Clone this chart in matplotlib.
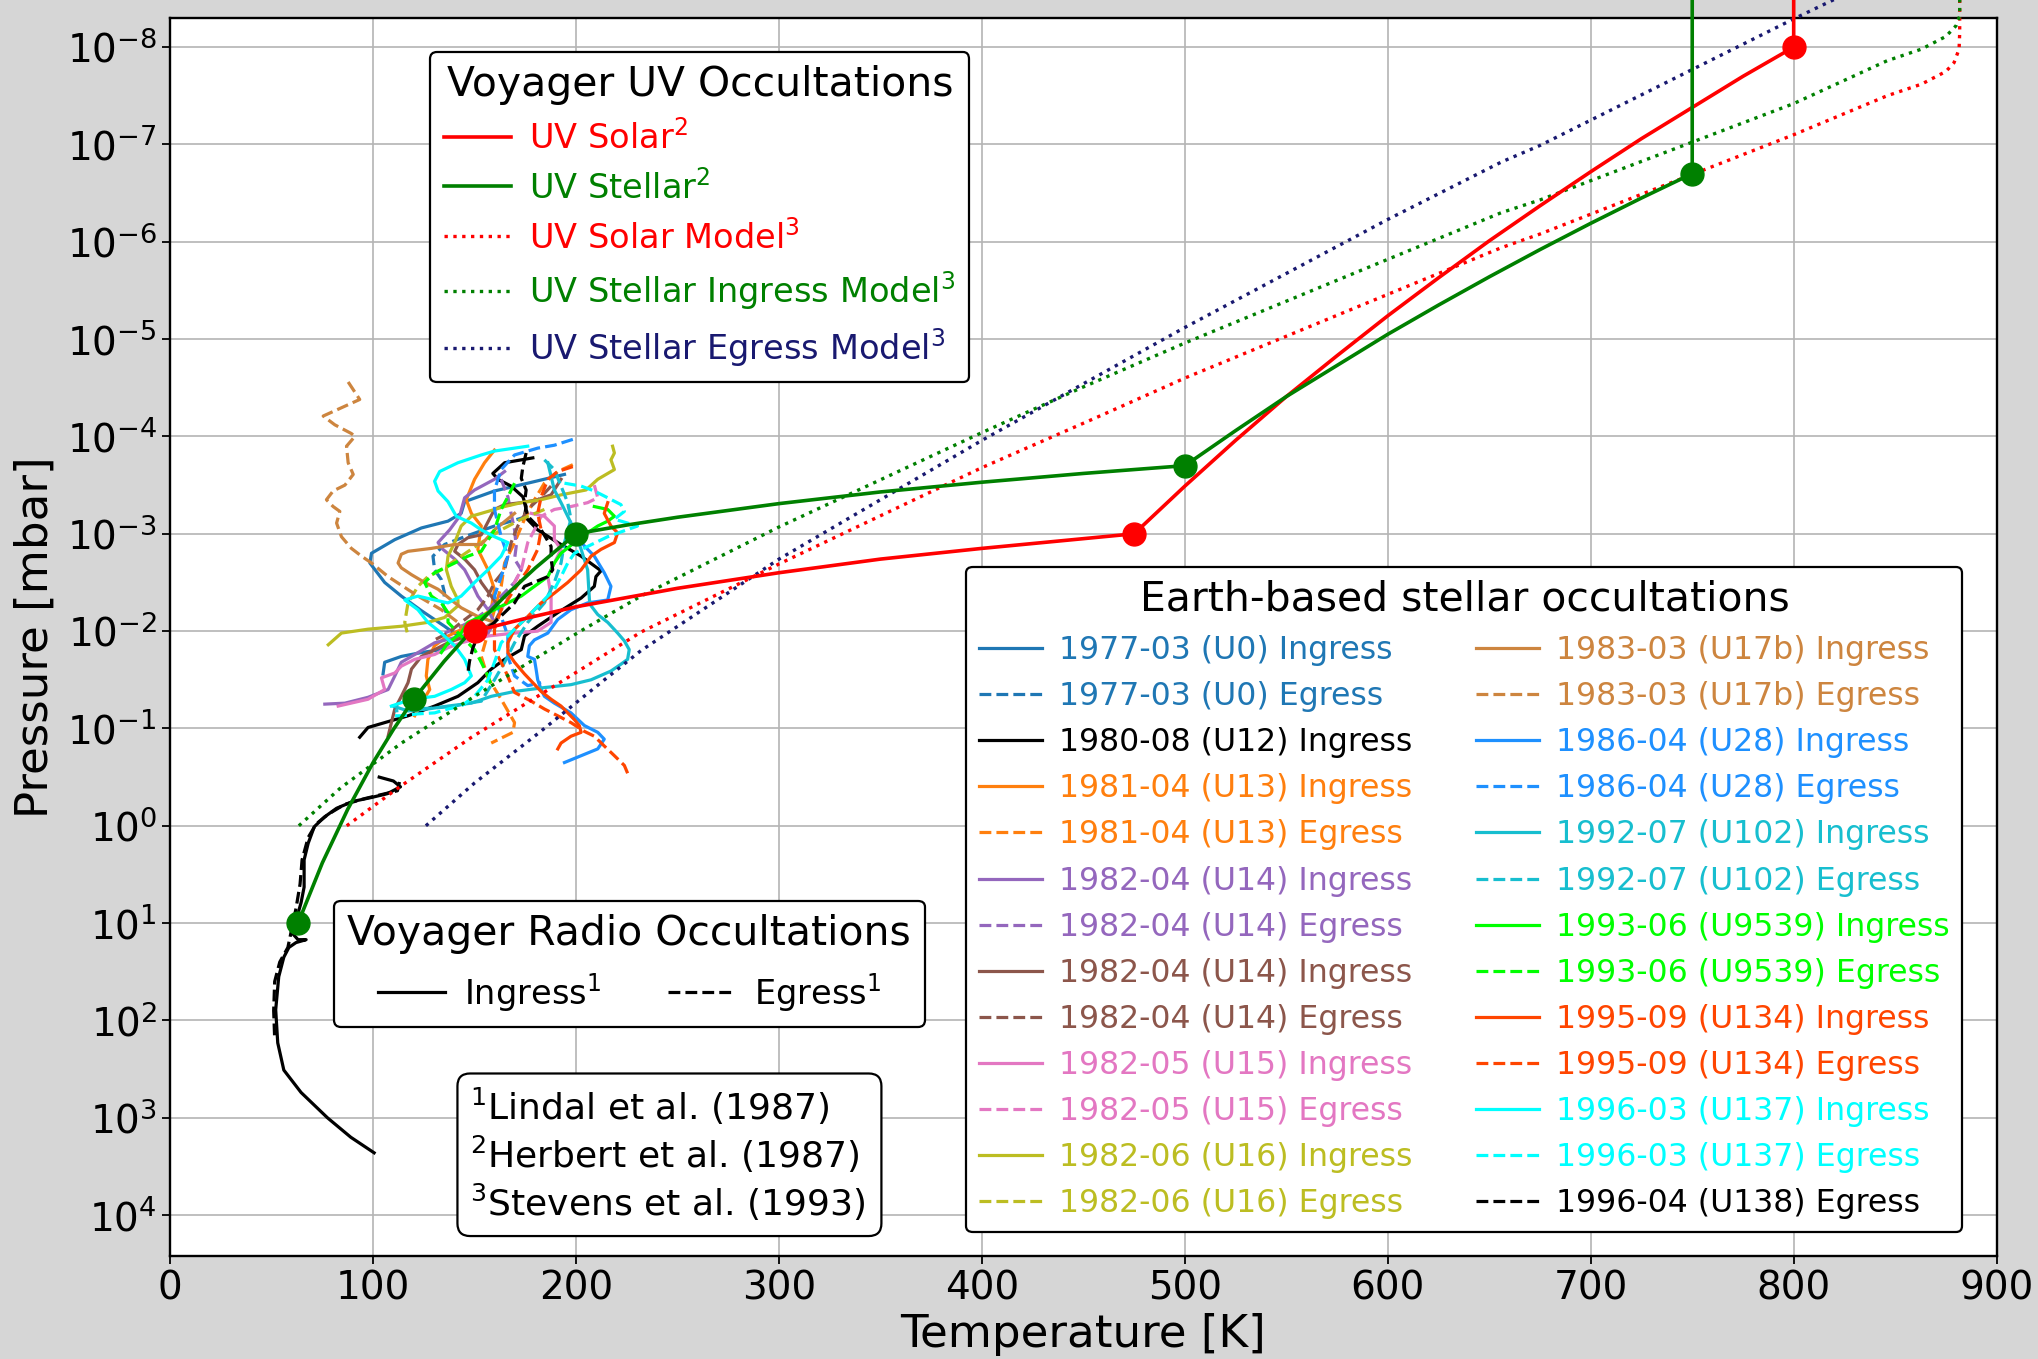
import numpy as np
import matplotlib
matplotlib.use("Agg")
import matplotlib.pyplot as plt
from matplotlib.ticker import FixedLocator, NullLocator

# ---------------------------------------------------------------------------
# Voyager UV occultations (Herbert et al. 1987); pressures stored as log10(mbar)
# ---------------------------------------------------------------------------
uv_solar_T = [150, 175, 200, 250, 300, 350, 400, 450, 475, 500, 525, 550, 575,
              600, 625, 650, 675, 700, 725, 750, 775, 800, 800]
uv_solar_logp = [-2.0, -2.13, -2.25, -2.44, -2.60, -2.74, -2.85, -2.95, -3.0,
                 -3.49, -3.96, -4.41, -4.83, -5.24, -5.63, -6.01, -6.37, -6.72,
                 -7.06, -7.38, -7.70, -8.0, -9.5]
uv_solar_pts_T = [150, 475, 800]
uv_solar_pts_logp = [-2.0, -3.0, -8.0]

uv_stellar_T = [63, 75, 87.5, 100, 110, 120, 135, 150, 165, 180, 200, 225, 250,
                275, 300, 350, 400, 450, 500, 525, 550, 575, 600, 625, 650, 675,
                700, 725, 750, 750]
uv_stellar_logp = [1.0, 0.38, -0.17, -0.65, -0.99, -1.30, -1.69, -2.04, -2.36,
                   -2.65, -3.0, -3.09, -3.17, -3.24, -3.31, -3.43, -3.53, -3.62,
                   -3.70, -4.06, -4.41, -4.73, -5.05, -5.35, -5.64, -5.92, -6.19,
                   -6.45, -6.70, -9.5]
uv_stellar_pts_T = [63, 120, 200, 500, 750]
uv_stellar_pts_logp = [1.0, -1.30, -3.0, -3.70, -6.70]

# Model profiles (Stevens et al. 1993)
solar_model_T = [87, 112.4, 148.5, 188, 232, 300, 400, 457, 500, 600, 656, 675,
                 800, 846, 863, 875, 879, 881.5, 881.8, 881.8]
solar_model_logp = [0.0, -0.39, -0.91, -1.42, -1.99, -2.69, -3.68, -4.20, -4.60,
                    -5.46, -5.94, -6.08, -7.10, -7.50, -7.62, -7.75, -7.84,
                    -7.98, -8.15, -9.5]
ingress_model_T = [63.4, 84, 114, 148.5, 173, 203, 232, 300, 400, 449, 500, 600,
                   656, 675, 800, 846, 863, 875, 880, 881.8, 881.8]
ingress_model_logp = [0.0, -0.39, -0.85, -1.31, -1.63, -2.01, -2.36, -3.07,
                      -4.04, -4.50, -4.96, -5.82, -6.30, -6.43, -7.42, -7.86,
                      -7.98, -8.11, -8.22, -8.32, -9.5]
egress_model_T = [126, 150, 182, 214, 232, 300, 400, 449, 500, 600, 656, 675,
                  800, 820, 845]
egress_model_logp = [0.0, -0.44, -0.96, -1.50, -1.80, -2.74, -3.96, -4.53,
                     -5.12, -6.23, -6.82, -6.99, -8.29, -8.49, -8.80]

# ---------------------------------------------------------------------------
# Voyager radio occultations (Lindal et al. 1987)
# ---------------------------------------------------------------------------
radio_in_T = [103, 110, 113.5, 107, 99, 90, 82, 76, 71, 68, 66, 66, 64.5, 63,
              62, 60, 63, 67, 62, 58.5, 56, 53.5, 52, 53, 56, 64.5, 77.5, 89,
              100.5]
radio_in_logp = [-0.50, -0.46, -0.40, -0.33, -0.29, -0.25, -0.18, -0.09, 0.01,
                 0.18, 0.35, 0.63, 0.79, 0.90, 1.0, 1.1, 1.17, 1.17, 1.2, 1.25,
                 1.35, 1.55, 1.89, 2.23, 2.51, 2.74, 3.0, 3.2, 3.36]
radio_eg_T = [113, 112, 104, 96, 86, 78, 72, 68, 65, 64, 62, 60, 58, 54, 51.5,
              51, 51.5]
radio_eg_logp = [-0.45, -0.36, -0.32, -0.28, -0.22, -0.12, -0.02, 0.12, 0.35,
                 0.6, 0.85, 1.05, 1.25, 1.4, 1.6, 1.9, 2.19]

# ---------------------------------------------------------------------------
# Earth-based stellar occultation profiles
# ---------------------------------------------------------------------------
u0_in_T = [194.3, 176.2, 159.8, 145.1, 143.4, 136.9, 123.8, 110.7, 99.2, 98.4,
           105.7, 113.9, 123.8, 135.2, 141.8, 133.6, 123.8, 113.9, 105.7, 104.9]
u0_in_logp = [-3.61, -3.52, -3.44, -3.33, -3.21, -3.13, -3.06, -2.94, -2.80,
              -2.70, -2.50, -2.36, -2.21, -2.05, -1.95, -1.81, -1.78, -1.74,
              -1.68, -1.56]
u0_eg_T = [176.2, 159.8, 145.1, 135.2, 129.5, 130.3, 133.6, 135.2, 134.4, 136.9]
u0_eg_logp = [-3.18, -3.08, -2.97, -2.89, -2.77, -2.63, -2.53, -2.39, -2.27,
              -2.15]
u12_in_T = [178.7, 164.8, 159.0, 161.5, 168.0, 173.8, 175.4, 174.6, 181.1, 191.0,
            202.5, 212.3, 209.8, 209.0, 202.5, 191.0, 181.1, 174.6, 173.0, 164.8,
            158.2, 151.6, 141.8, 130.3, 117.2, 105.7, 97.5, 93.4]
u12_in_logp = [-3.78, -3.73, -3.62, -3.56, -3.49, -3.38, -3.28, -3.18, -3.04,
               -2.91, -2.77, -2.62, -2.56, -2.46, -2.34, -2.19, -2.05, -1.95,
               -1.81, -1.71, -1.61, -1.47, -1.33, -1.23, -1.13, -1.06, -1.01,
               -0.91]
u13_in_T = [159.8, 154.9, 150.0, 145.9, 148.4, 153.3, 151.6, 156.6, 159.8, 158.2,
            146.7, 136.9, 130.3, 127.0, 126.2, 127.9, 123.8, 120.5]
u13_in_logp = [-3.86, -3.73, -3.56, -3.35, -3.21, -3.08, -2.84, -2.63, -2.43,
               -2.22, -2.05, -1.95, -1.85, -1.71, -1.54, -1.40, -1.26, -1.13]
u13_eg_T = [198.4, 191.0, 184.4, 179.5, 174.6, 169.7, 164.8, 163.1, 159.8, 156.6,
            153.3, 156.6, 163.1, 169.7, 168.9, 158.2]
u13_eg_logp = [-3.71, -3.64, -3.52, -3.35, -3.15, -2.91, -2.70, -2.46, -2.22,
               -1.98, -1.74, -1.52, -1.30, -1.06, -0.96, -0.85]
u14a_in_T = [164.8, 159.8, 150.0, 145.1, 142.6, 137.7, 132.0, 134.4, 140.2, 145.1,
             148.4, 151.6, 156.6, 159.8, 156.6, 143.4, 130.3, 118.9, 113.9, 110.7,
             107.4, 97.5, 86.1, 76.2]
u14a_in_logp = [-3.64, -3.56, -3.45, -3.37, -3.18, -3.04, -2.91, -2.84, -2.74,
                -2.63, -2.50, -2.36, -2.22, -2.09, -1.98, -1.95, -1.88, -1.74,
                -1.68, -1.54, -1.40, -1.32, -1.26, -1.25]
u14a_eg_T = [163.1, 166.4, 168.0, 169.7, 170.5, 169.7, 173.0, 169.7, 163.1, 156.6,
             150.0, 143.4, 135.2]
u14a_eg_logp = [-3.56, -3.38, -3.21, -3.04, -2.87, -2.74, -2.63, -2.50, -2.36,
                -2.22, -2.12, -2.05, -1.98]
u14b_in_T = [192.6, 187.7, 181.1, 173.0, 164.8, 159.8, 153.3, 146.7, 141.8, 140.2,
             145.1, 150.0, 153.3, 158.2, 163.1, 159.8, 150.0, 136.9, 123.8, 118.9,
             117.2, 113.9, 110.7, 109.0, 107.4]
u14b_in_logp = [-3.56, -3.40, -3.35, -3.32, -3.30, -3.25, -2.99, -2.96, -2.89,
                -2.82, -2.74, -2.63, -2.50, -2.36, -2.22, -2.09, -1.98, -1.88,
                -1.74, -1.61, -1.47, -1.33, -1.20, -1.06, -0.92]
u14b_eg_T = [187.7, 182.8, 176.2, 171.3, 168.0, 166.4, 164.8, 159.8, 156.6, 151.6,
             143.4, 136.9, 130.3]
u14b_eg_logp = [-3.49, -3.38, -3.25, -3.08, -2.91, -2.77, -2.63, -2.50, -2.36,
                -2.22, -2.09, -1.98, -1.91]
u15_in_T = [177.9, 184.4, 189.3, 189.3, 192.6, 189.3, 186.1, 187.7, 187.7, 181.1,
            169.7, 156.6, 143.4, 136.9, 130.3, 120.5, 113.9, 110.7, 104.1, 105.7,
            97.5, 82.8]
u15_in_logp = [-3.21, -3.18, -3.08, -2.94, -2.84, -2.70, -2.56, -2.36, -2.09,
               -2.00, -1.98, -1.95, -1.88, -1.83, -1.76, -1.71, -1.64, -1.57,
               -1.52, -1.40, -1.30, -1.23]
u15_eg_T = [209.0, 210.7, 205.7, 197.5, 189.3, 182.8, 179.5, 176.2, 174.6, 173.0,
            169.7, 166.4, 163.1]
u15_eg_logp = [-3.50, -3.37, -3.32, -3.28, -3.25, -3.18, -3.04, -2.91, -2.77,
               -2.63, -2.50, -2.36, -2.22]
u16_in_T = [218.0, 218.9, 217.2, 218.9, 210.7, 204.9, 192.6, 182.8, 173.0, 164.8,
            156.6, 148.4, 143.4, 140.2, 136.9, 136.1, 138.5, 141.8, 141.8, 135.2,
            127.0, 113.9, 97.5, 84.4, 77.9]
u16_in_logp = [-3.90, -3.83, -3.76, -3.66, -3.56, -3.45, -3.40, -3.35, -3.32,
               -3.28, -3.23, -3.18, -3.08, -2.91, -2.77, -2.63, -2.46, -2.32,
               -2.26, -2.14, -2.09, -2.05, -2.02, -1.98, -1.86]
u16_eg_T = [184.4, 173.0, 163.1, 153.3, 143.4, 133.6, 127.0, 122.1, 117.2, 115.6,
            117.2]
u16_eg_logp = [-3.25, -3.15, -3.04, -2.91, -2.77, -2.63, -2.56, -2.46, -2.29,
               -2.09, -1.95]
u17b_in_T = [169.7, 159.8, 153.3, 140.2, 128.7, 117.2, 113.9, 112.3, 113.9, 118.9,
             125.4, 132.0, 138.5, 143.4, 151.6, 159.8]
u17b_in_logp = [-3.21, -3.04, -2.89, -2.89, -2.85, -2.82, -2.79, -2.70, -2.65,
                -2.58, -2.50, -2.43, -2.32, -2.24, -2.15, -2.09]
u17b_eg_T = [87.7, 93.4, 75.4, 81.1, 89.3, 91.0, 86.9, 87.7, 90.2, 86.1, 80.3,
             77.0, 80.3, 83.6, 82.0, 84.4, 89.3, 94.3, 99.2, 107.4, 122.1, 133.6,
             141.8, 146.7]
u17b_eg_logp = [-4.56, -4.38, -4.21, -4.12, -4.03, -4.00, -3.90, -3.73, -3.61,
                -3.50, -3.44, -3.35, -3.28, -3.23, -3.11, -2.97, -2.85, -2.77,
                -2.70, -2.56, -2.36, -2.22, -2.09, -1.98]
u28_in_T = [197.5, 202.5, 209.0, 213.9, 217.2, 215.6, 205.7, 197.5, 191.0, 186.1,
            179.5, 177.0, 176.2, 179.5, 180.3, 181.1, 182.8, 184.4, 189.3, 197.5,
            204.1, 210.7, 213.9, 210.7, 202.5, 194.3]
u28_in_logp = [-3.08, -2.91, -2.77, -2.60, -2.46, -2.32, -2.29, -2.22, -2.12,
               -1.98, -1.91, -1.85, -1.74, -1.71, -1.61, -1.50, -1.40, -1.33,
               -1.26, -1.16, -1.03, -0.96, -0.89, -0.79, -0.72, -0.65]
u28_eg_T = [198.4, 189.3, 181.1, 169.7, 163.1, 159.8, 159.8, 163.1, 166.4, 163.1,
            159.8, 163.1, 166.4, 166.4, 169.7, 176.2, 182.8]
u28_eg_logp = [-3.97, -3.91, -3.88, -3.81, -3.66, -3.45, -3.25, -2.97, -2.77,
               -2.56, -2.36, -2.15, -1.95, -1.74, -1.54, -1.44, -1.47]
u102_in_T = [186.1, 187.7, 189.3, 192.6, 195.9, 199.2, 202.5, 205.7, 206.6, 207.4,
             210.7, 215.6, 220.5, 223.8, 226.2, 225.4, 222.1, 217.2, 207.4, 197.5,
             184.4, 169.7, 158.2, 148.4, 136.9, 127.0, 117.2, 109.8]
u102_in_logp = [-3.73, -3.59, -3.45, -3.32, -3.18, -3.04, -2.84, -2.63, -2.32,
                -2.26, -2.17, -2.09, -1.98, -1.90, -1.81, -1.71, -1.66, -1.59,
                -1.50, -1.45, -1.42, -1.38, -1.33, -1.26, -1.23, -1.20, -1.18,
                -1.23]
u102_eg_T = [184.4, 189.3, 192.6, 195.9, 197.5, 194.3, 192.6, 189.3, 184.4, 176.2,
             169.7, 164.8, 159.8, 153.3, 146.7, 140.2, 130.3, 120.5, 110.7]
u102_eg_logp = [-3.76, -3.66, -3.49, -3.32, -3.15, -2.91, -2.70, -2.50, -2.29,
                -2.09, -1.88, -1.68, -1.50, -1.28, -1.26, -1.23, -1.21, -1.20,
                -1.18]
u9539_in_T = [209.0, 215.6, 218.9, 215.6, 210.7, 205.7, 199.2, 192.6, 189.3,
              186.1, 179.5, 173.0, 166.4, 159.8, 153.3, 146.7, 143.4, 136.9, 133.6]
u9539_in_logp = [-3.28, -3.25, -3.18, -3.13, -3.08, -3.01, -2.91, -2.80, -2.70,
                 -2.56, -2.46, -2.36, -2.29, -2.22, -2.15, -2.09, -1.98, -1.88,
                 -1.78]
u9539_eg_T = [169.7, 166.4, 163.1, 159.8, 153.3, 146.7, 140.2, 130.3, 125.4,
              128.7, 133.6, 136.9, 136.9, 143.4, 150.0, 153.3, 156.6, 158.2]
u9539_eg_logp = [-3.52, -3.38, -3.25, -3.04, -2.82, -2.77, -2.70, -2.60, -2.50,
                 -2.36, -2.29, -2.19, -2.09, -1.95, -1.81, -1.68, -1.54, -1.44]
u134_in_T = [215.6, 213.9, 217.2, 220.5, 218.9, 212.3, 207.4, 202.5, 195.9, 189.3,
             182.8, 176.2, 169.7, 166.4, 166.4, 169.7, 174.6, 178.7, 182.8, 187.7,
             192.6, 195.9, 199.2, 201.6, 202.5, 197.5, 192.6, 191.0]
u134_in_logp = [-3.32, -3.21, -3.08, -3.01, -2.91, -2.84, -2.77, -2.63, -2.50,
                -2.39, -2.29, -2.15, -2.02, -1.88, -1.78, -1.68, -1.56, -1.47,
                -1.38, -1.30, -1.23, -1.16, -1.09, -1.03, -0.96, -0.92, -0.85,
                -0.79]
u134_eg_T = [198.4, 191.0, 186.1, 182.8, 181.1, 182.8, 181.1, 176.2, 169.7, 163.1,
             159.8, 159.8, 164.8, 169.7, 177.9, 184.4, 191.0, 197.5, 204.1, 209.0,
             213.9, 218.9, 223.8, 226.2]
u134_eg_logp = [-3.69, -3.64, -3.56, -3.38, -3.21, -3.04, -2.84, -2.63, -2.43,
                -2.22, -2.02, -1.81, -1.61, -1.37, -1.28, -1.20, -1.13, -1.06,
                -0.97, -0.92, -0.82, -0.72, -0.62, -0.50]
u137_in_T = [176.2, 159.8, 153.3, 141.8, 132.8, 130.3, 132.0, 136.9, 141.0, 148.4,
             153.3, 159.8, 166.4, 163.1, 156.6, 150.0, 143.4, 136.9, 130.3, 122.1,
             115.6, 122.1, 127.0, 133.6, 140.2, 145.1, 148.4, 145.1, 138.5, 130.3,
             118.9, 109.0]
u137_in_logp = [-3.90, -3.85, -3.81, -3.73, -3.64, -3.54, -3.44, -3.33, -3.18,
                -3.11, -3.04, -2.97, -2.91, -2.77, -2.63, -2.50, -2.36, -2.29,
                -2.32, -2.36, -2.32, -2.22, -2.09, -1.98, -1.85, -1.71, -1.54,
                -1.47, -1.40, -1.33, -1.30, -1.23]
u137_eg_T = [194.3, 202.5, 209.0, 215.6, 222.1, 223.8, 218.9, 230.3, 215.6, 205.7,
             199.2, 195.9, 192.6, 189.3, 182.8, 176.2, 169.7, 163.1, 159.8, 156.6,
             150.0, 143.4, 136.9, 130.3, 122.1, 113.9, 109.0]
u137_eg_logp = [-3.52, -3.49, -3.44, -3.37, -3.30, -3.23, -3.15, -3.08, -2.97,
                -2.87, -2.80, -2.70, -2.56, -2.43, -2.29, -2.15, -2.02, -1.88,
                -1.68, -1.50, -1.33, -1.23, -1.20, -1.16, -1.15, -1.13, -1.13]
u138_eg_T = [175.4, 173.8, 173.0, 175.4, 174.6, 176.2, 182.8, 187.7, 187.7, 188.5,
             186.1, 180.3, 174.6, 169.7, 159.8, 151.6, 149.2, 147.5, 146.7]
u138_eg_logp = [-3.83, -3.69, -3.57, -3.45, -3.32, -3.18, -3.04, -2.87, -2.74,
                -2.63, -2.56, -2.51, -2.46, -2.29, -2.09, -1.95, -1.83, -1.69,
                -1.57]

earth_profiles = [
    ("1977-03 (U0) Ingress", "#1f77b4", "-", u0_in_T, u0_in_logp),
    ("1977-03 (U0) Egress", "#1f77b4", "--", u0_eg_T, u0_eg_logp),
    ("1980-08 (U12) Ingress", "black", "-", u12_in_T, u12_in_logp),
    ("1981-04 (U13) Ingress", "#ff7f0e", "-", u13_in_T, u13_in_logp),
    ("1981-04 (U13) Egress", "#ff7f0e", "--", u13_eg_T, u13_eg_logp),
    ("1982-04 (U14) Ingress", "#9467bd", "-", u14a_in_T, u14a_in_logp),
    ("1982-04 (U14) Egress", "#9467bd", "--", u14a_eg_T, u14a_eg_logp),
    ("1982-04 (U14) Ingress", "#8c564b", "-", u14b_in_T, u14b_in_logp),
    ("1982-04 (U14) Egress", "#8c564b", "--", u14b_eg_T, u14b_eg_logp),
    ("1982-05 (U15) Ingress", "#e377c2", "-", u15_in_T, u15_in_logp),
    ("1982-05 (U15) Egress", "#e377c2", "--", u15_eg_T, u15_eg_logp),
    ("1982-06 (U16) Ingress", "#bcbd22", "-", u16_in_T, u16_in_logp),
    ("1982-06 (U16) Egress", "#bcbd22", "--", u16_eg_T, u16_eg_logp),
    ("1983-03 (U17b) Ingress", "#cd853f", "-", u17b_in_T, u17b_in_logp),
    ("1983-03 (U17b) Egress", "#cd853f", "--", u17b_eg_T, u17b_eg_logp),
    ("1986-04 (U28) Ingress", "#1e90ff", "-", u28_in_T, u28_in_logp),
    ("1986-04 (U28) Egress", "#1e90ff", "--", u28_eg_T, u28_eg_logp),
    ("1992-07 (U102) Ingress", "#17becf", "-", u102_in_T, u102_in_logp),
    ("1992-07 (U102) Egress", "#17becf", "--", u102_eg_T, u102_eg_logp),
    ("1993-06 (U9539) Ingress", "#00ff00", "-", u9539_in_T, u9539_in_logp),
    ("1993-06 (U9539) Egress", "#00ff00", "--", u9539_eg_T, u9539_eg_logp),
    ("1995-09 (U134) Ingress", "#ff4500", "-", u134_in_T, u134_in_logp),
    ("1995-09 (U134) Egress", "#ff4500", "--", u134_eg_T, u134_eg_logp),
    ("1996-03 (U137) Ingress", "#00ffff", "-", u137_in_T, u137_in_logp),
    ("1996-03 (U137) Egress", "#00ffff", "--", u137_eg_T, u137_eg_logp),
    ("1996-04 (U138) Egress", "black", "--", u138_eg_T, u138_eg_logp),
]

y_tick_exponents = list(range(-8, 5))
x_ticks = [0, 100, 200, 300, 400, 500, 600, 700, 800, 900]


def pres(logp):
    return 10.0 ** np.asarray(logp, dtype=float)


fig = plt.figure(figsize=(20.38, 13.59), dpi=100, facecolor="#d6d6d6")
ax = fig.add_axes([0.0835, 0.0758, 0.8962, 0.9110])
ax.set_facecolor("white")
ax.set_yscale("log")

LW = 2.3

# Earth-based profiles
earth_handles = []
for label, color, ls, t, lp in earth_profiles:
    (ln,) = ax.plot(t, pres(lp), color=color, ls=ls, lw=LW, label=label, zorder=2)
    earth_handles.append(ln)

# Radio occultation profiles
(radio_in,) = ax.plot(radio_in_T, pres(radio_in_logp), color="black", ls="-",
                      lw=LW, label="Ingress$^1$", zorder=2)
(radio_eg,) = ax.plot(radio_eg_T, pres(radio_eg_logp), color="black", ls="--",
                      lw=LW, label="Egress$^1$", zorder=2)

# Model profiles
(m_sol,) = ax.plot(solar_model_T, pres(solar_model_logp), color="red", ls=":",
                   lw=2.4, label="UV Solar Model$^3$", clip_on=False, zorder=3)
(m_ing,) = ax.plot(ingress_model_T, pres(ingress_model_logp), color="green",
                   ls=":", lw=2.4, label="UV Stellar Ingress Model$^3$",
                   clip_on=False, zorder=3)
(m_eg,) = ax.plot(egress_model_T, pres(egress_model_logp), color="#191970",
                  ls=":", lw=2.4, label="UV Stellar Egress Model$^3$",
                  clip_on=False, zorder=3)

# Voyager UV results
(uv_sol,) = ax.plot(uv_solar_T, pres(uv_solar_logp), color="red", lw=2.6,
                    label="UV Solar$^2$", clip_on=False, zorder=4)
(uv_st,) = ax.plot(uv_stellar_T, pres(uv_stellar_logp), color="green", lw=2.6,
                   label="UV Stellar$^2$", clip_on=False, zorder=4)
ax.plot(uv_solar_pts_T, pres(uv_solar_pts_logp), "o", color="red", ms=16.5,
        clip_on=False, zorder=4.5)
ax.plot(uv_stellar_pts_T, pres(uv_stellar_pts_logp), "o", color="green", ms=16.5,
        clip_on=False, zorder=4.5)

# Axes
ax.set_xlim(0, 900)
ax.set_ylim(10 ** 4.42, 10 ** -8.30)
ax.yaxis.set_major_locator(FixedLocator([10.0 ** k for k in y_tick_exponents]))
ax.yaxis.set_minor_locator(NullLocator())
ax.set_xticks(x_ticks)
ax.tick_params(axis="both", which="major", labelsize=28, length=6, width=1.3)
ax.grid(True, which="major", color="#b4b4b4", lw=1.2)
ax.set_axisbelow(True)
for sp in ax.spines.values():
    sp.set_linewidth(1.7)
ax.set_xlabel("Temperature [K]", fontsize=32.5, labelpad=4)
ax.set_ylabel("Pressure [mbar]", fontsize=32.5, labelpad=7)

leg_kw = dict(framealpha=1, edgecolor="black", fancybox=True, borderaxespad=0,
              title_fontsize=29.4, handletextpad=0.55)

leg_uv = ax.legend(handles=[uv_sol, uv_st, m_sol, m_ing, m_eg],
                   title="Voyager UV Occultations", loc="upper left",
                   bbox_to_anchor=(0.1424, 0.9725), labelcolor="linecolor",
                   fontsize=24.2, labelspacing=0.42, **leg_kw)
leg_uv.get_frame().set_linewidth(1.6)
leg_uv.set_zorder(10)
ax.add_artist(leg_uv)

leg_earth = ax.legend(handles=earth_handles, title="Earth-based stellar occultations",
                      loc="lower right", bbox_to_anchor=(0.9813, 0.0193), ncol=2,
                      labelcolor="linecolor", fontsize=22.7, labelspacing=0.48,
                      **leg_kw)
leg_earth.get_frame().set_linewidth(1.6)
leg_earth.set_zorder(10)
ax.add_artist(leg_earth)

leg_radio = ax.legend(handles=[radio_in, radio_eg], title="Voyager Radio Occultations",
                      loc="upper left", bbox_to_anchor=(0.0897, 0.287), ncol=2,
                      fontsize=24.2, **leg_kw)
leg_radio.get_frame().set_linewidth(1.6)
leg_radio.set_zorder(10)

ax.text(0.1642, 0.1372,
        "$^1$Lindal et al. (1987)\n$^2$Herbert et al. (1987)\n$^3$Stevens et al. (1993) ",
        transform=ax.transAxes, ha="left", va="top", fontsize=26, linespacing=1.2,
        zorder=11,
        bbox=dict(boxstyle="round,pad=0.35", fc="white", ec="black", lw=1.6))

fig.savefig("out.png", dpi=100, facecolor=fig.get_facecolor())
